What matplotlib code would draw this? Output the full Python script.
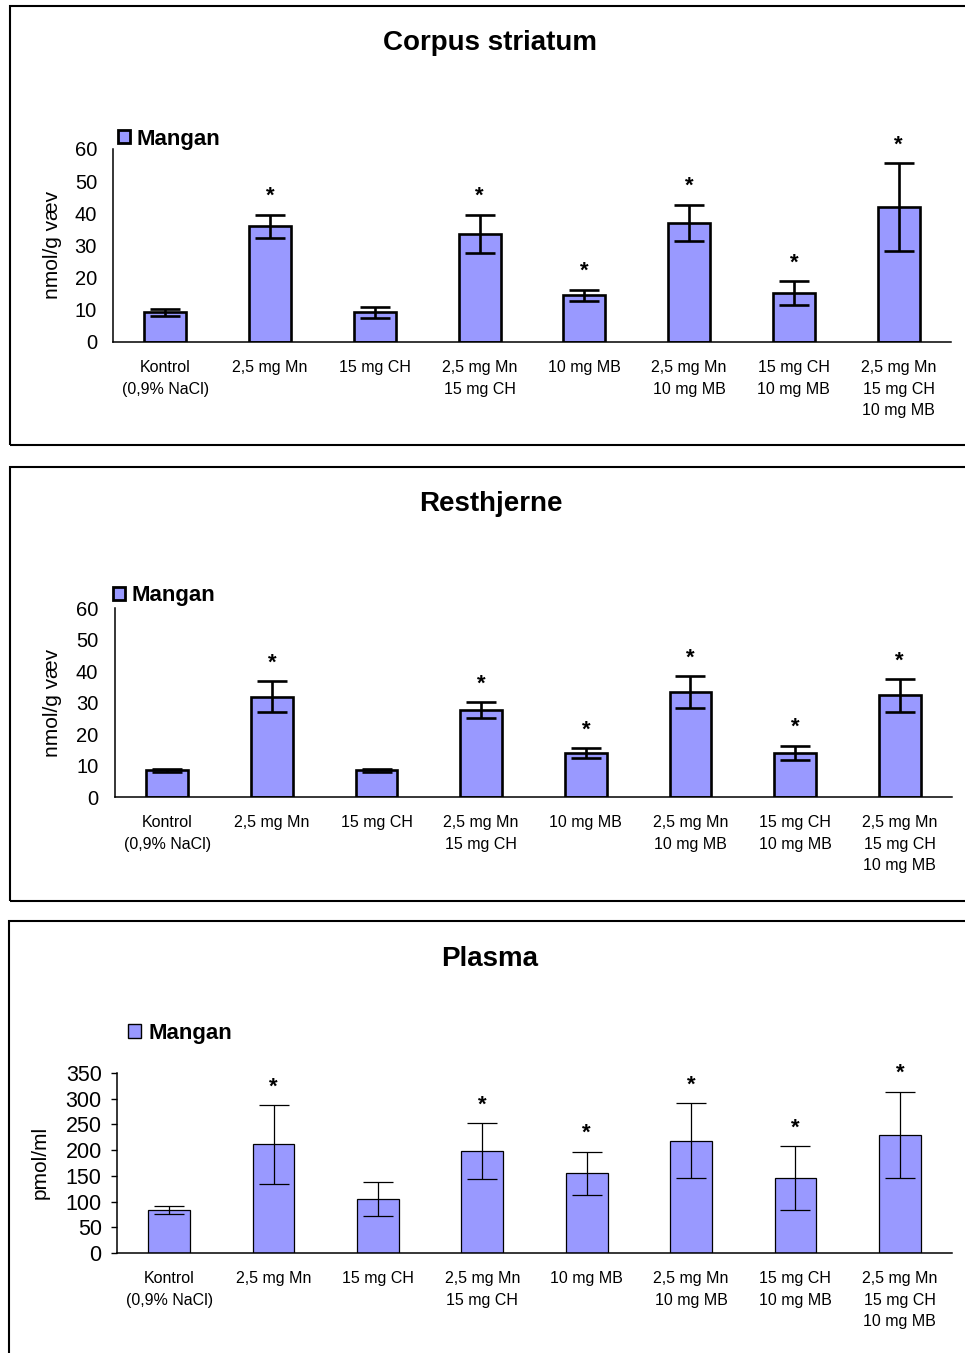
import numpy as np
import matplotlib
matplotlib.use("Agg")
import matplotlib.pyplot as plt
from matplotlib.patches import Rectangle

plt.rcParams['font.family'] = ['Liberation Sans', 'DejaVu Sans']

# data
categories = ["Kontrol\n(0,9% NaCl)", "2,5 mg Mn", "15 mg CH", "2,5 mg Mn\n15 mg CH",
              "10 mg MB", "2,5 mg Mn\n10 mg MB", "15 mg CH\n10 mg MB",
              "2,5 mg Mn\n15 mg CH\n10 mg MB"]
significant = [False, True, False, True, True, True, True, True]

striatum_mean = [9.2, 36.0, 9.2, 33.6, 14.6, 37.0, 15.2, 42.0]
striatum_err = [1.1, 3.6, 1.7, 6.0, 1.7, 5.7, 3.7, 13.7]

rest_mean = [8.5, 31.8, 8.5, 27.6, 14.0, 33.3, 14.0, 32.3]
rest_err = [0.5, 4.9, 0.5, 2.5, 1.5, 5.0, 2.3, 5.2]

plasma_mean = [83, 211, 105, 198, 155, 218, 146, 230]
plasma_err = [8, 76, 34, 55, 42, 73, 62, 84]

W, H = 965, 1353
bar_color = '#9999FF'

fig = plt.figure(figsize=(W / 100, H / 100), dpi=100)


def px_axes(left, right, top, bottom):
    return fig.add_axes([left / W, 1 - bottom / H, (right - left) / W, (bottom - top) / H])


def frame(x0, y0, x1, y1):
    fig.add_artist(Rectangle((x0 / W, 1 - y1 / H), (x1 - x0) / W, (y1 - y0) / H,
                             transform=fig.transFigure, fill=False, ec='black', lw=1.5,
                             clip_on=False))


def panel(ax, mean, err, ymax, ystep, thick, tick_fs, tick_len, ypad):
    x = np.arange(len(categories))
    lw = 1.9 if thick else 0.9
    bars = ax.bar(x, mean, width=0.4, color=bar_color, edgecolor='black', linewidth=lw,
                  label='Mangan', zorder=2)
    ax.errorbar(x, mean, yerr=err, fmt='none', ecolor='black', elinewidth=lw,
                capsize=11, capthick=lw, zorder=3)
    for xi, m, e, s in zip(x, mean, err, significant):
        if s:
            ax.annotate('*', (xi, m + e), xytext=(0, 13), textcoords='offset points',
                        ha='center', va='center', fontsize=16, fontweight='bold')
    ax.set_xlim(-0.5, len(categories) - 0.5)
    ax.set_ylim(0, ymax)
    ax.set_yticks(np.arange(0, ymax + 1, ystep))
    ax.set_xticks(x)
    ax.set_xticklabels(categories, fontsize=11.5, linespacing=1.55)
    ax.tick_params(axis='x', length=0, pad=13)
    ax.tick_params(axis='y', length=tick_len, width=1, pad=ypad, labelsize=tick_fs)
    for side in ['top', 'right']:
        ax.spines[side].set_visible(False)
    for side in ['left', 'bottom']:
        ax.spines[side].set_linewidth(1.1)
    return bars


def add_legend(ax, x, y, size, edge):
    leg = ax.legend(loc='center left', bbox_to_anchor=(x / W, 1 - y / H),
                    bbox_transform=fig.transFigure, frameon=False,
                    prop={'weight': 'bold', 'size': 16}, handlelength=size,
                    handleheight=size, handletextpad=0.3, borderpad=0, borderaxespad=0)
    for h in leg.legend_handles:
        h.set_linewidth(edge)


# Corpus striatum
frame(10, 6, 975, 445)
ax1 = px_axes(113, 951, 149, 342)
panel(ax1, striatum_mean, striatum_err, 60, 10, True, 14.5, 0, 11.5)
fig.text(490 / W, 1 - 43 / H, 'Corpus striatum', ha='center', va='center',
         fontsize=20, fontweight='bold')
fig.text(52 / W, 1 - 245 / H, 'nmol/g væv', rotation=90, ha='center', va='center', fontsize=15)
add_legend(ax1, 118, 139, 0.55, 2.0)

# Resthjerne
frame(10, 467, 975, 901)
ax2 = px_axes(115, 952, 608, 797)
panel(ax2, rest_mean, rest_err, 60, 10, True, 14.5, 0, 12)
fig.text(491 / W, 1 - 504 / H, 'Resthjerne', ha='center', va='center',
         fontsize=20, fontweight='bold')
fig.text(53 / W, 1 - 703 / H, 'nmol/g væv', rotation=90, ha='center', va='center', fontsize=15)
add_legend(ax2, 113, 596, 0.55, 2.0)

# Plasma
frame(9, 921, 975, 1370)
ax3 = px_axes(117, 952, 1073, 1253)
panel(ax3, plasma_mean, plasma_err, 350, 50, False, 15.5, 4, 7)
fig.text(490 / W, 1 - 959 / H, 'Plasma', ha='center', va='center',
         fontsize=20, fontweight='bold')
fig.text(40 / W, 1 - 1162 / H, 'pmol/ml', rotation=90, ha='center', va='center', fontsize=15)
add_legend(ax3, 128, 1033, 0.6, 1.0)

fig.savefig('out.png', dpi=100)
